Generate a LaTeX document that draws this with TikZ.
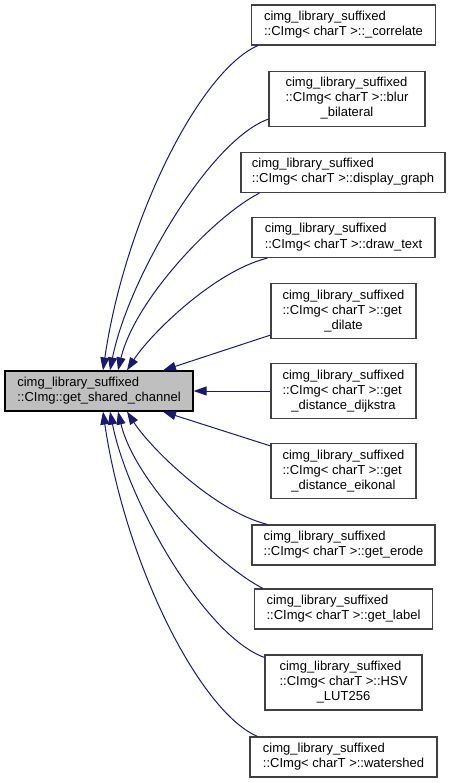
\documentclass[tikz,border=0pt]{standalone}
\usepackage{fontspec}
\setmainfont{Liberation Sans}
\usetikzlibrary{arrows.meta}
\definecolor{navyedge}{HTML}{191970}
\definecolor{mainfill}{HTML}{BFBFBF}
\definecolor{boxline}{HTML}{404040}
\newcommand{\fnlabel}[2]{\begin{tabular}{@{}l@{}}#1\\#2\end{tabular}}
\newcommand{\fnlabelx}[3]{\begin{tabular}{@{}l@{}}#1\\#2\\\multicolumn{1}{@{}c@{}}{#3}\end{tabular}}
\tikzset{
  fnbox/.style={draw=boxline,fill=white,line width=1.2pt,inner sep=0pt,
    font=\fontsize{13}{15}\selectfont,minimum height=40pt},
  fnboxx/.style={fnbox,minimum height=55pt},
  mainbox/.style={fnbox,draw=black,fill=mainfill},
  calls/.style={draw=navyedge,line width=1pt,arrows={Triangle[length=13pt,width=9pt]-}}
}
\begin{document}
\begin{tikzpicture}[x=1pt,y=-1pt]
\useasboundingbox (0,0) rectangle (452,783);
% the function itself
\node[mainbox,minimum width=188pt] (main) at (99,391)
  {\fnlabel{cimg\_library\_suffixed}{::CImg::get\_shared\_channel}};
% callers
\node[fnbox,minimum width=184pt] (corr) at (343.5,25)
  {\fnlabel{cimg\_library\_suffixed}{::CImg< charT >::\_correlate}};
\node[fnboxx,minimum width=156pt] (blur) at (347,99)
  {\fnlabelx{cimg\_library\_suffixed}{::CImg< charT >::blur}{\_bilateral}};
\node[fnbox,minimum width=204pt] (disp) at (343,172.5)
  {\fnlabel{cimg\_library\_suffixed}{::CImg< charT >::display\_graph}};
\node[fnbox,minimum width=183pt] (text) at (343.5,237.5)
  {\fnlabel{cimg\_library\_suffixed}{::CImg< charT >::draw\_text}};
\node[fnboxx,minimum width=145pt] (dilate) at (343.5,311)
  {\fnlabelx{cimg\_library\_suffixed}{::CImg< charT >::get}{\_dilate}};
\node[fnboxx,minimum width=145pt] (dijk) at (343.5,391)
  {\fnlabelx{cimg\_library\_suffixed}{::CImg< charT >::get}{\_distance\_dijkstra}};
\node[fnboxx,minimum width=145pt] (eik) at (343.5,471)
  {\fnlabelx{cimg\_library\_suffixed}{::CImg< charT >::get}{\_distance\_eikonal}};
\node[fnbox,minimum width=183pt] (erode) at (343.5,545)
  {\fnlabel{cimg\_library\_suffixed}{::CImg< charT >::get\_erode}};
\node[fnbox,minimum width=178pt] (label) at (343.5,609)
  {\fnlabel{cimg\_library\_suffixed}{::CImg< charT >::get\_label}};
\node[fnboxx,minimum width=157pt] (hsv) at (343.5,682.5)
  {\fnlabelx{cimg\_library\_suffixed}{::CImg< charT >::HSV}{\_LUT256}};
\node[fnbox,minimum width=187pt] (water) at (343.5,757)
  {\fnlabel{cimg\_library\_suffixed}{::CImg< charT >::watershed}};
% edges above
\draw[calls] ([xshift=4pt]main.north) .. controls +(22,-151) and +(-58,25) .. ([xshift=7pt]corr.south west);
\draw[calls] ([xshift=11pt]main.north) .. controls +(18,-91) and +(-59,21) .. ([yshift=8pt]blur.south west);
\draw[calls] ([xshift=19pt]main.north) .. controls +(17,-71) and +(-45,23) .. ([xshift=19pt]disp.south west);
\draw[calls] ([xshift=28pt]main.north) .. controls +(23,-36) and +(-53,13) .. ([xshift=16pt]text.south west);
\draw[calls] ([xshift=64pt]main.north) -- ([yshift=4pt]dilate.south west);
\draw[calls] (main.east) -- (dijk.west);
% edges below
\draw[calls] ([xshift=64pt]main.south) -- ([yshift=-3pt]eik.north west);
\draw[calls] ([xshift=28pt]main.south) .. controls +(23,36) and +(-53,-13) .. ([xshift=16pt]erode.north west);
\draw[calls] ([xshift=19pt]main.south) .. controls +(17,71) and +(-45,-23) .. ([xshift=9pt]label.north west);
\draw[calls] ([xshift=11pt]main.south) .. controls +(18,91) and +(-59,-21) .. ([yshift=-3pt]hsv.north west);
\draw[calls] ([xshift=4pt]main.south) .. controls +(22,151) and +(-58,-25) .. ([xshift=8pt]water.north west);
\end{tikzpicture}
\end{document}
